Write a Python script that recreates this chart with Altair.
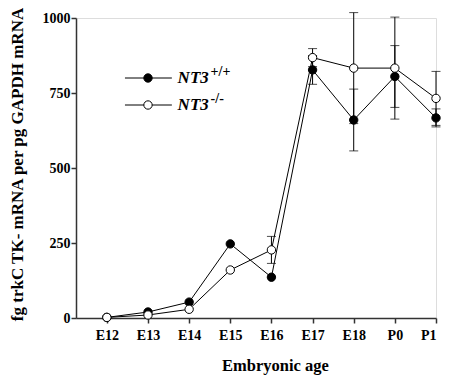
import altair as alt
import pandas as pd

ages = ["E12", "E13", "E14", "E15", "E16", "E17", "E18", "P0", "P1"]
wt = [2, 20, 53, 247, 136, 827, 660, 805, 667]
wt_err = [0, 0, 0, 0, 0, 48, 103, 103, 30]
ko = [2, 10, 29, 160, 227, 868, 833, 833, 732]
ko_err = [0, 0, 0, 0, 45, 30, 185, 170, 90]

FONT = "'Liberation Serif', 'Times New Roman', 'DejaVu Serif', serif"

rows = []
for i, a in enumerate(ages):
    rows.append(dict(idx=i, age=a, series="wt", v=wt[i], e=wt_err[i], lo=wt[i] - wt_err[i], hi=wt[i] + wt_err[i]))
    rows.append(dict(idx=i, age=a, series="ko", v=ko[i], e=ko_err[i], lo=ko[i] - ko_err[i], hi=ko[i] + ko_err[i]))
df = pd.DataFrame(rows)
err = df[df.e > 0]

labels_js = "[" + ",".join('"%s"' % a for a in ages) + "]"

xs = alt.Scale(domain=[-0.75, 8], nice=False, zero=False)
ys = alt.Scale(domain=[0, 1000], nice=False)

xenc = alt.X("idx:Q", scale=xs, axis=alt.Axis(
    values=list(range(len(ages))), labelExpr=labels_js + "[datum.value]",
    title="Embryonic age", grid=False, domainColor="#333", tickColor="#333",
    domainWidth=1.5, tickWidth=1.5, tickSize=5, labelPadding=5,
    labelFont=FONT, labelFontSize=14, labelFontWeight="bold", labelColor="black",
    titleFont=FONT, titleFontSize=16.5, titleFontWeight="bold", titleColor="black",
    titleX=199, titlePadding=15))
yenc = alt.Y("v:Q", scale=ys, axis=alt.Axis(
    values=[0, 250, 500, 750, 1000], format="d", title="fg trkC TK- mRNA per pg GAPDH mRNA",
    grid=False, domainColor="#333", tickColor="#333", domainWidth=1.5, tickWidth=1.5,
    tickSize=5, labelPadding=1, labelFont=FONT, labelFontSize=14, labelFontWeight="bold",
    labelColor="black", titleFont=FONT, titleFontSize=17, titleFontWeight="bold",
    titleColor="black", titleY=146, titleX=-59, titleBaseline="middle"))

base = alt.Chart(df)

lines = base.mark_line(color="black", strokeWidth=1).encode(
    x=xenc, y=yenc, detail="series:N")

rules = alt.Chart(err).mark_rule(color="black", strokeWidth=1).encode(
    x=alt.X("idx:Q", scale=xs), y=alt.Y("lo:Q", scale=ys), y2="hi:Q")
caps_hi = alt.Chart(err).mark_tick(color="black", orient="horizontal", size=9, thickness=1).encode(
    x=alt.X("idx:Q", scale=xs), y=alt.Y("hi:Q", scale=ys))
caps_lo = alt.Chart(err).mark_tick(color="black", orient="horizontal", size=9, thickness=1).encode(
    x=alt.X("idx:Q", scale=xs), y=alt.Y("lo:Q", scale=ys))

pts = base.mark_point(shape="circle", size=70, stroke="black", strokeWidth=1, opacity=1).encode(
    x=alt.X("idx:Q", scale=xs), y=alt.Y("v:Q", scale=ys),
    fill=alt.Fill("series:N", scale=alt.Scale(domain=["wt", "ko"], range=["black", "white"]), legend=None))

# legend built in data space
leg_names = ["wt", "ko"]
leg_y = [800, 710]
leg_sup = ["+/+", "-/-"]
leg_lines = pd.DataFrame([dict(series=s, x=0.44, x2=1.58, y=y) for s, y in zip(leg_names, leg_y)])
leg_pts = pd.DataFrame([dict(series=s, x=1.0, y=y) for s, y in zip(leg_names, leg_y)])
leg_txt = pd.DataFrame([dict(series=s, x=1.72, y=y, t="NT3", sup=p) for s, y, p in zip(leg_names, leg_y, leg_sup)])

lg_l = alt.Chart(leg_lines).mark_rule(color="black", strokeWidth=1).encode(
    x=alt.X("x:Q", scale=xs), x2="x2:Q", y=alt.Y("y:Q", scale=ys))
lg_p = alt.Chart(leg_pts).mark_point(shape="circle", size=70, stroke="black", strokeWidth=1, opacity=1).encode(
    x=alt.X("x:Q", scale=xs), y=alt.Y("y:Q", scale=ys),
    fill=alt.Fill("series:N", scale=alt.Scale(domain=["wt", "ko"], range=["black", "white"]), legend=None))
lg_t = alt.Chart(leg_txt).mark_text(font=FONT, fontSize=17, fontWeight="bold", fontStyle="italic",
                                    align="left", baseline="middle", color="black").encode(
    x=alt.X("x:Q", scale=xs), y=alt.Y("y:Q", scale=ys), text="t:N")
lg_s = alt.Chart(leg_txt).mark_text(font=FONT, fontSize=14, fontWeight="bold",
                                    align="left", baseline="middle", color="black", dx=33, dy=-6).encode(
    x=alt.X("x:Q", scale=xs), y=alt.Y("y:Q", scale=ys), text="sup:N")

chart = alt.layer(lines, rules, caps_hi, caps_lo, pts, lg_l, lg_p, lg_t, lg_s).properties(
    width=360, height=300,
    autosize=alt.AutoSizeParams(type="none"),
    padding={"left": 68, "top": 10, "right": 13, "bottom": 63},
).configure_view(stroke=None).configure(background="white")

chart.save("out.html", embed_options={"renderer": "svg", "actions": False})
